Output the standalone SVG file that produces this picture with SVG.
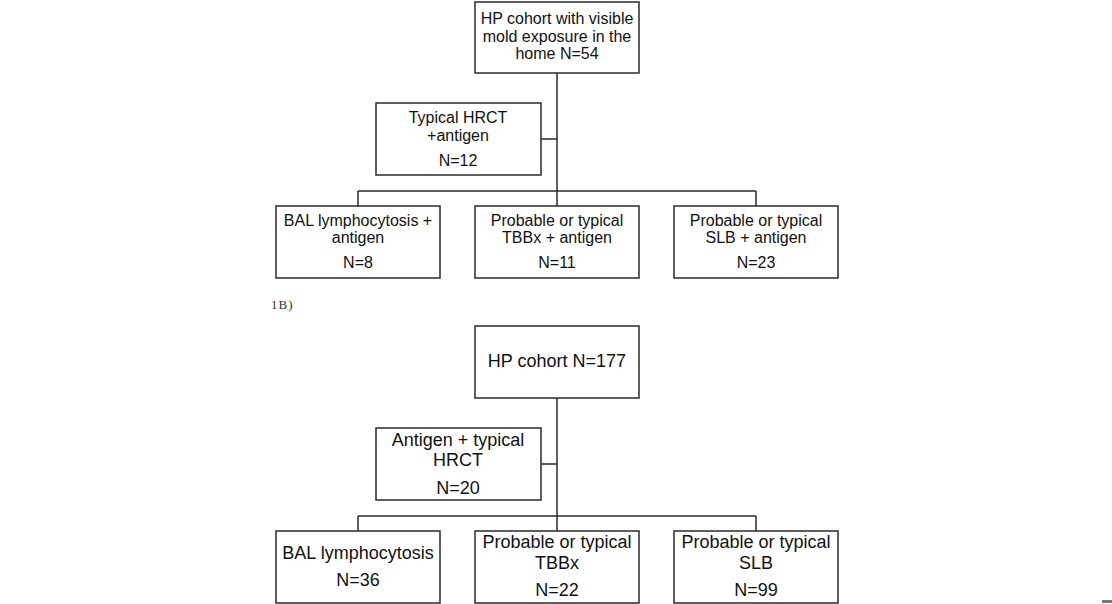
<svg xmlns="http://www.w3.org/2000/svg" width="1112" height="604" viewBox="0 0 1112 604">
<style>
.box{fill:#fff;stroke:#2a2a2a;stroke-width:1.5}
.ln{fill:none;stroke:#2a2a2a;stroke-width:1.5}
.a{font-family:"Liberation Sans",Arial,sans-serif;font-size:16px;fill:#111;text-anchor:middle}
.b{font-family:"Liberation Sans",Arial,sans-serif;font-size:18px;fill:#111;text-anchor:middle}
.lab{font-family:"Liberation Serif","Times New Roman",serif;font-size:13px;fill:#333;letter-spacing:1px}
</style>
<rect width="1112" height="604" fill="#fff"/>
<g id="connectors">
<path class="ln" d="M557,73 V191 M541,139 H557 M358,191 H756 M358,191 V206 M557,191 V206 M756,191 V206"/>
<path class="ln" d="M557,398 V516 M541,464 H557 M358,516 H756 M358,516 V531 M557,516 V531 M756,516 V531"/>
</g>
<g id="a-root"><rect class="box" x="475" y="2" width="164" height="71"/>
<text class="a" x="557" y="24">HP cohort with visible</text>
<text class="a" x="557" y="42">mold exposure in the</text>
<text class="a" x="557" y="59">home N=54</text></g>
<g id="a-hrct"><rect class="box" x="376" y="103" width="165" height="72"/>
<text class="a" x="458" y="123">Typical HRCT</text>
<text class="a" x="458" y="141">+antigen</text>
<text class="a" x="458" y="166">N=12</text></g>
<g id="a-bal"><rect class="box" x="276" y="206" width="164" height="72"/>
<text class="a" x="358" y="226">BAL lymphocytosis +</text>
<text class="a" x="358" y="243">antigen</text>
<text class="a" x="358" y="268">N=8</text></g>
<g id="a-tbbx"><rect class="box" x="475" y="206" width="164" height="72"/>
<text class="a" x="557" y="226">Probable or typical</text>
<text class="a" x="557" y="243">TBBx + antigen</text>
<text class="a" x="557" y="268">N=11</text></g>
<g id="a-slb"><rect class="box" x="674" y="206" width="164" height="72"/>
<text class="a" x="756" y="226">Probable or typical</text>
<text class="a" x="756" y="243">SLB + antigen</text>
<text class="a" x="756" y="268">N=23</text></g>
<text class="lab" x="271" y="309">1B)</text>
<g id="b-root"><rect class="box" x="475" y="326" width="164" height="72"/>
<text class="b" x="557" y="367">HP cohort N=177</text></g>
<g id="b-hrct"><rect class="box" x="376" y="428" width="165" height="72"/>
<text class="b" x="458" y="446">Antigen + typical</text>
<text class="b" x="458" y="466">HRCT</text>
<text class="b" x="458" y="494">N=20</text></g>
<g id="b-bal"><rect class="box" x="276" y="531" width="164" height="72"/>
<text class="b" x="358" y="559">BAL lymphocytosis</text>
<text class="b" x="358" y="586">N=36</text></g>
<g id="b-tbbx"><rect class="box" x="475" y="531" width="164" height="72"/>
<text class="b" x="557" y="548">Probable or typical</text>
<text class="b" x="557" y="569">TBBx</text>
<text class="b" x="557" y="596">N=22</text></g>
<g id="b-slb"><rect class="box" x="674" y="531" width="164" height="72"/>
<text class="b" x="756" y="548">Probable or typical</text>
<text class="b" x="756" y="569">SLB</text>
<text class="b" x="756" y="596">N=99</text></g>
<rect x="1102" y="600" width="10" height="3" fill="#777"/>
</svg>
